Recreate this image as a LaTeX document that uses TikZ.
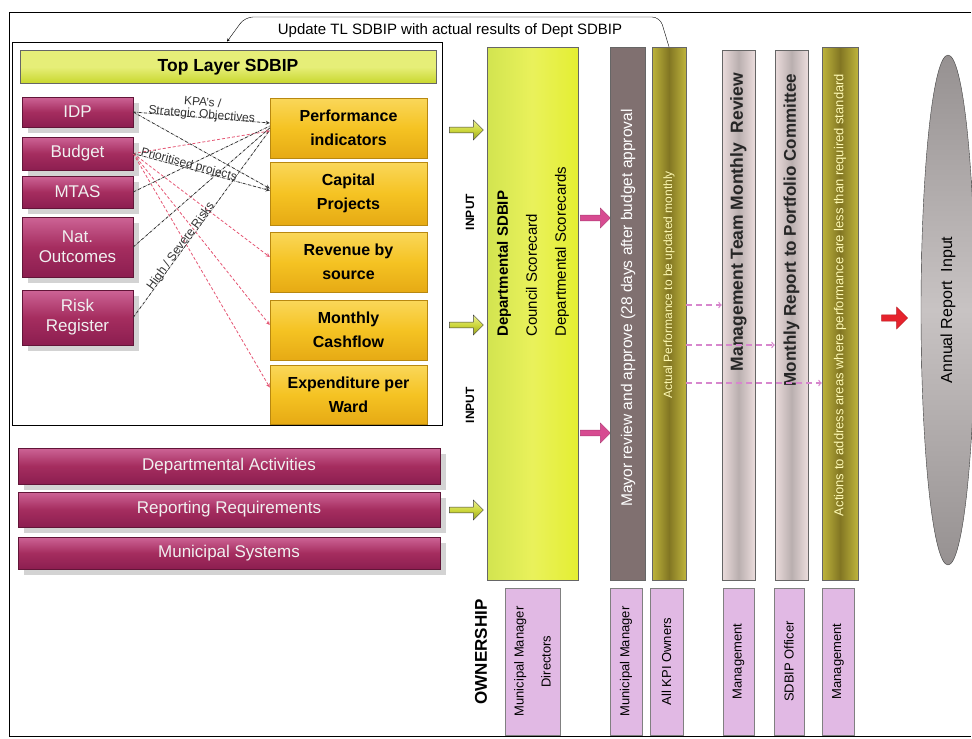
\documentclass[tikz,border=0pt]{standalone}
\usepackage{fontspec}
\setmainfont{Liberation Sans}
\usepackage{tikz}
\usetikzlibrary{calc, positioning, arrows, shapes.arrows, shapes.geometric, shadows, backgrounds}
\definecolor{mag}{RGB}{165,45,95}
\definecolor{magL}{RGB}{205,100,150}
\definecolor{magD}{RGB}{140,30,80}
\definecolor{gold}{RGB}{245,195,35}
\definecolor{goldL}{RGB}{250,215,90}
\definecolor{goldD}{RGB}{230,170,20}
\definecolor{tlyel}{RGB}{200,215,45}
\definecolor{tlyelL}{RGB}{230,238,120}
\definecolor{dept}{RGB}{228,238,50}
\definecolor{deptL}{RGB}{210,228,80}
\definecolor{mayorc}{RGB}{128,112,112}
\definecolor{olive}{RGB}{130,118,35}
\definecolor{oliveL}{RGB}{190,180,60}
\definecolor{mgL}{RGB}{235,220,220}
\definecolor{mgD}{RGB}{185,175,175}
\definecolor{ownc}{RGB}{225,185,228}
\definecolor{ellL}{RGB}{200,195,195}
\definecolor{ellD}{RGB}{150,145,145}
\definecolor{pk}{RGB}{215,75,145}
\definecolor{pkdash}{RGB}{215,135,205}
\definecolor{rddashc}{RGB}{228,85,115}
\definecolor{rd}{RGB}{230,35,45}
\definecolor{inarr}{RGB}{205,215,60}
\definecolor{inarrL}{RGB}{235,240,150}
\definecolor{inarrD}{RGB}{150,160,30}
\tikzstyle{mbox}=[draw=magD!70!black, top color=magL, bottom color=magD, middle color=mag, text=white!88!gray, font=\fontsize{17}{20}\selectfont, align=center, inner sep=1pt, minimum width=111, drop shadow={shadow xshift=6pt, shadow yshift=-6pt, opacity=0.35}]
\tikzstyle{gbox}=[draw=goldD!80!black, top color=goldL, bottom color=goldD, middle color=gold, font=\bfseries\fontsize{16}{24}\selectfont, align=center, inner sep=1pt, minimum width=157, minimum height=60]
\tikzstyle{col}=[draw=black!60, minimum width=35, minimum height=533, inner sep=0pt]
\tikzstyle{coltxt}=[rotate=90, inner sep=0pt]
\tikzstyle{ownbox}=[draw=black!50, fill=ownc, rotate=90, minimum width=147, align=center, inner sep=0pt, font=\fontsize{13}{27}\selectfont]
\tikzstyle{inarrow}=[single arrow, draw=black!75, top color=inarrL, bottom color=inarrD, middle color=inarr, minimum height=34, minimum width=20, single arrow head extend=3pt, inner sep=1pt]
\tikzstyle{lbl}=[font=\fontsize{12}{12}\selectfont, inner sep=0.5pt]
\tikzstyle{dkdash}=[densely dashdotted, thick, black!80]
\tikzstyle{rddash}=[densely dashed, thick, rddashc]
\tikzstyle{pkflow}=[pkdash, line width=1.3pt, dash pattern=on 6pt off 4pt, -to]
\tikzset{>=stealth}

\begin{document}
\begin{tikzpicture}[x=1pt, y=-1pt]
\useasboundingbox (0,0) rectangle (972,739);
% the frames
\draw[thick] (971,12) -- (9,12) -- (9,736) -- (971,736);
\node[draw, thick, minimum width=430, minimum height=383, inner sep=0pt] (tlframe) at (227,233.5) {};
\node[draw=black!60, top color=tlyelL, bottom color=tlyel, middle color=tlyelL, minimum width=416, minimum height=33, font=\bfseries\fontsize{17.5}{19}\selectfont] (toplayer) at (228,67) {Top Layer SDBIP};
% the sources on the left
\node[mbox, minimum height=30] (idp) at (77.5,112) {IDP};
\node[mbox, minimum height=33] (budget) at (77.5,153.5) {Budget};
\node[mbox, minimum height=32] (mtas) at (77.5,192) {MTAS};
\node[mbox, minimum height=60] (nat) at (77.5,247) {Nat.\\Outcomes};
\node[mbox, minimum height=55] (risk) at (77.5,317.5) {Risk\\Register};
% the top layer items
\node[gbox] (perf) at (348.5,128) {Performance\\indicators};
\node[gbox, minimum height=63] (cap) at (348.5,193.5) {Capital\\Projects};
\node[gbox] (rev) at (348.5,262) {Revenue by\\source};
\node[gbox] (month) at (348.5,330) {Monthly\\Cashflow};
\node[gbox, minimum height=59] (exp) at (348.5,394.5) {Expenditure per\\Ward};
% the links
\draw[rddash, ->] (budget.east) -- ([yshift=-3pt]perf.west);
\draw[rddash, ->] (budget.east) -- ([yshift=5pt]rev.west);
\draw[rddash, ->] (budget.east) -- ([yshift=5pt]month.west);
\draw[rddash, ->] (budget.east) -- ([yshift=7pt]exp.west);
\draw[dkdash, ->] (idp.east) -- node[lbl, above=-4pt, sloped, align=center] {KPA's /\\Strategic Objectives} ([yshift=5pt]perf.west);
\draw[dkdash, ->] (idp.east) -- ([yshift=5pt]cap.west);
\draw[dkdash, ->] (budget.east) -- node[lbl, above=-3pt, sloped, pos=0.4] {Prioritised projects} ([yshift=3pt]cap.west);
\draw[dkdash] (mtas.east) -- ([yshift=2pt]perf.west);
\draw[dkdash] (nat.east) -- (perf.west);
\draw[dkdash] (risk.east) -- node[lbl, above=-3pt, sloped, pos=0.37] {High / Severe Risks} ([yshift=-2pt]perf.west);
% the lower sources
\node[mbox, minimum width=422, minimum height=36] (deptact) at (229,466) {Departmental Activities};
\node[mbox, minimum width=422, minimum height=35] (repreq) at (229,509.5) {Reporting Requirements};
\node[mbox, minimum width=422, minimum height=32] (munsys) at (229,553) {Municipal Systems};
% the inputs
\node[inarrow] (in1) at (465,130) {};
\node[inarrow] (in2) at (465,325) {};
\node[inarrow] (in3) at (465,510) {};
\node[coltxt, font=\bfseries\fontsize{12}{14}\selectfont] (inputa) at (470,212) {INPUT};
\node[coltxt, font=\bfseries\fontsize{12}{14}\selectfont] (inputb) at (470,405) {INPUT};
% the departmental SDBIP
\node[draw=black!60, left color=deptL, right color=dept, middle color=dept!80!white, minimum width=91, minimum height=533] (dept) at (532.5,313.5) {};
\node[rotate=90, anchor=west, align=left, inner sep=0pt, font=\fontsize{15}{29}\selectfont] (depttxt) at (533,337) {\textbf{Departmental SDBIP}\\Council Scorecard\\Departmental Scorecards};
\node[single arrow, fill=pk, draw=pk!80!black, minimum height=30, minimum width=20, single arrow head extend=3pt, inner sep=1pt] (pa1) at (594,218) {};
\node[single arrow, fill=pk, draw=pk!80!black, minimum height=30, minimum width=20, single arrow head extend=3pt, inner sep=1pt] (pa2) at (594,433) {};
% the review columns
\node[col, fill=mayorc] (mayor) at (627.5,313.5) {};
\node[coltxt, text=white, font=\fontsize{15.5}{17}\selectfont] (mayortxt) at (628,308) {Mayor review and approve (28 days after budget approval};
\node[col, left color=oliveL, right color=oliveL, middle color=olive, minimum width=34] (actual) at (669,313.5) {};
\node[coltxt, text=yellow!30!white, font=\fontsize{12}{14}\selectfont] (actualtxt) at (669,285) {Actual Performance to be updated monthly};
\node[col, left color=mgL, right color=mgL, middle color=mgD, minimum width=33, minimum height=530] (mgmt) at (738.5,315) {};
\node[coltxt, text=black!85, font=\bfseries\fontsize{17.5}{19}\selectfont] (mgmttxt) at (738.5,222) {Management Team Monthly\ \ Review};
\node[col, left color=mgL, right color=mgL, middle color=mgD, minimum width=33, minimum height=530] (report) at (791.5,315) {};
\node[coltxt, text=black!85, font=\bfseries\fontsize{17}{19}\selectfont] (reporttxt) at (791.5,230) {Monthly Report to Portfolio Committee};
\node[col, left color=oliveL, right color=oliveL, middle color=olive, minimum width=36] (actions) at (840,313.5) {};
\node[coltxt, text=yellow!30!white, font=\fontsize{13}{15}\selectfont] (actionstxt) at (840,295) {Actions to address areas where performance are less than required standard};
% the monthly flow
\draw[pkflow] ([yshift=8.5pt]actual.east) -- ([yshift=10pt]mgmt.west);
\draw[pkflow] ([yshift=-31.5pt]actual.east) -- ([yshift=-30pt]report.west);
\draw[pkflow] ([yshift=-69.5pt]actual.east) -- ([yshift=-69.5pt]actions.west);
% the annual report
\node[single arrow, fill=rd, draw=rd!80!black, minimum height=26, minimum width=22, single arrow head extend=3pt, inner sep=1pt] (ra) at (893,318) {};
\node[ellipse, rotate=90, draw=black!75, top color=ellD, bottom color=ellD, middle color=ellL, minimum width=510, minimum height=54, inner sep=0pt, font=\fontsize{16}{18}\selectfont] (annual) at (948,310) {Annual Report\ \ Input};
% the update callout
\node[font=\fontsize{15}{17}\selectfont, inner sep=1pt] (update) at (450,31) {Update TL SDBIP with actual results of Dept SDBIP};
\coordinate (cr) at (660,17);
\coordinate (cl) at (245,17);
\draw[->, rounded corners=8pt] (actual.north) -- (cr) -- (cl) -- (tlframe.north);
% the ownership
\node[coltxt, font=\bfseries\fontsize{17}{19}\selectfont] (ownlbl) at (481,652) {OWNERSHIP};
\node[ownbox, minimum height=55] (own1) at (532.5,661.5) {Municipal Manager\\Directors};
\node[ownbox, minimum height=32] (own2) at (626,661.5) {Municipal Manager};
\node[ownbox, minimum height=33] (own3) at (666.5,661.5) {All KPI Owners};
\node[ownbox, minimum height=31] (own4) at (738.5,661.5) {Management};
\node[ownbox, minimum height=30] (own5) at (789,661.5) {SDBIP Officer};
\node[ownbox, minimum height=32] (own6) at (838,661.5) {Management};
\end{tikzpicture}
\end{document}
